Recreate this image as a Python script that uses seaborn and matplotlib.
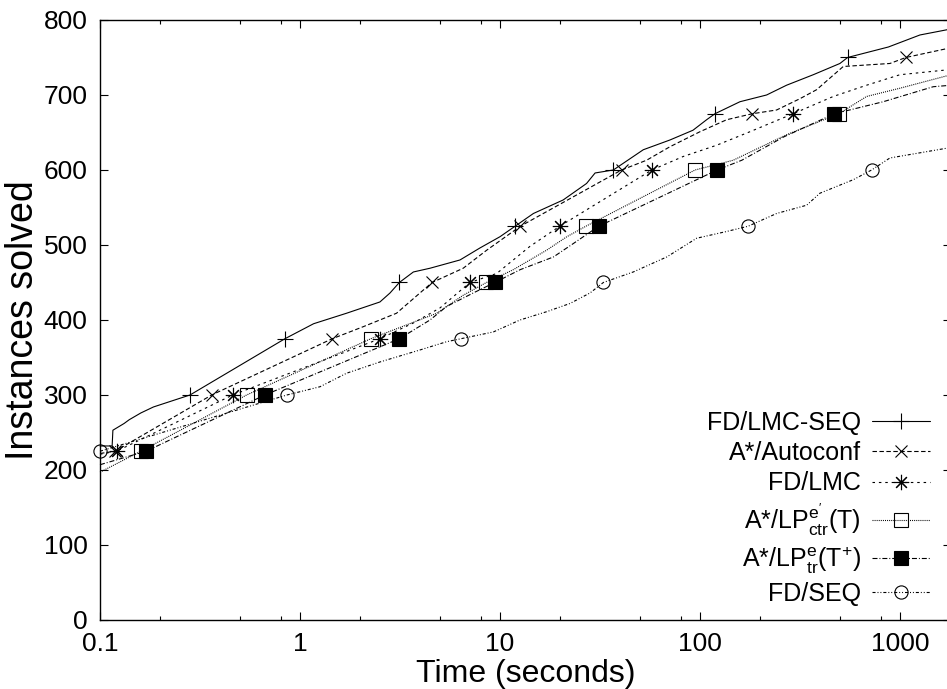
import matplotlib
matplotlib.use("Agg")
import matplotlib.pyplot as plt
from matplotlib.ticker import FixedLocator, FixedFormatter, NullFormatter
import pandas as pd
import seaborn as sns

# instances solved vs. time (markers every 75 instances)
lmcseq_t = [0.1, 0.115, 0.116, 0.132, 0.14, 0.16, 0.185, 0.282, 0.841, 1.17, 1.71, 2.51,
            2.82, 3.14, 3.69, 4.47, 6.31, 7.94, 10, 11.9, 14.7, 20.7, 27.1, 29.9, 36.9,
            52.1, 70.8, 92.3, 108, 118.9, 158.5, 215.5, 271, 368.6, 501, 547.6, 876,
            1259, 1800]
lmcseq_n = [232, 232, 253, 262, 267, 276, 284, 300, 375, 395, 409, 424,
            436, 450, 464, 469, 480, 496, 511, 525, 542, 560, 582, 596, 600,
            627, 640, 653, 667, 675, 691, 700, 713, 727, 742, 750, 764,
            780, 788]

autoconf_t = [0.1, 0.119, 0.362, 1.45, 2.07, 3.04, 3.98, 4.58, 6.55, 8.58, 12.65, 40.55,
              54.1, 70.8, 100, 136, 182.8, 241.8, 316, 383, 520.8, 681, 891, 1071, 1800]
autoconf_n = [222, 225, 300, 375, 391, 409, 436, 450, 469, 493, 525, 600,
              613, 631, 651, 667, 675, 680, 695, 707, 738, 740, 742, 750, 763]

lmc_t = [0.1, 0.121, 0.461, 2.51, 3.69, 5.01, 7.08, 9.63, 14.1, 19.9, 57.5, 82.5,
         121.2, 177.8, 232.6, 292.4, 464, 681, 1000, 1800]
lmc_n = [221, 225, 300, 375, 396, 416, 450, 462, 498, 525, 600, 618,
         633, 651, 664, 675, 698, 713, 727, 734]

lpctr_t = [0.1, 0.16, 0.541, 2.26, 4.83, 6.55, 8.56, 11.65, 17.1, 21.6, 26.9, 94.6,
           146.7, 271, 495.5, 681, 1000, 1800]
lpctr_n = [197, 225, 300, 375, 409, 433, 450, 467, 493, 511, 525, 600,
           613, 647, 675, 698, 709, 727]

lptr_t = [0.1, 0.17, 0.668, 3.14, 4.47, 5.41, 7.35, 9.43, 12.6, 18.5, 23.3, 31.2,
          121.9, 162, 262, 470, 825, 1467, 1800]
lptr_n = [207, 225, 300, 375, 400, 418, 436, 450, 467, 484, 502, 525,
          600, 613, 644, 675, 691, 711, 713]

seq_t = [0.1, 0.861, 1.26, 1.71, 2.51, 3.98, 5.41, 6.38, 9.26, 12.6, 17.1, 22.4, 28.2,
         32.9, 46.4, 68.2, 96.3, 136, 174.2, 241.8, 341.6, 398, 584, 722, 891, 1800]
seq_n = [225, 300, 311, 329, 344, 360, 371, 375, 384, 400, 411, 422, 436,
         450, 464, 484, 509, 518, 525, 542, 553, 569, 587, 600, 616, 630]

labels = ["FD/LMC-SEQ", "A*/Autoconf", "FD/LMC",
          r"A*/LP$^{\mathregular{e'}}_{\mathregular{ctr}}$(T)",
          r"A*/LP$^{\mathregular{e}}_{\mathregular{tr}}$(T$^{\mathregular{+}}$)",
          "FD/SEQ"]

xticks = [0.1, 1, 10, 100, 1000]
xticklabels = ["0.1", "1", "10", "100", "1000"]
yticks = [0, 100, 200, 300, 400, 500, 600, 700, 800]

sns.set_style("ticks")
plt.rcParams["font.family"] = ["Liberation Sans", "DejaVu Sans"]
plt.rcParams["mathtext.fontset"] = "custom"
plt.rcParams["mathtext.rm"] = "Liberation Sans"
plt.rcParams["lines.scale_dashes"] = False
for k in ["text.color", "axes.labelcolor", "xtick.color", "ytick.color", "axes.edgecolor"]:
    plt.rcParams[k] = "black"

fig = plt.figure(figsize=(9.47, 6.89), dpi=100)
ax = fig.add_axes([0.1056, 0.1002, 0.8986, 0.8708])

series = [
    (lmcseq_t, lmcseq_n, "-", "+", "k", 11),
    (autoconf_t, autoconf_n, (0, (3.2, 1.8)), "x", "k", 9),
    (lmc_t, lmc_n, (0, (1.8, 2.8)), (8, 2, 0), "k", 11),
    (lpctr_t, lpctr_n, (0, (0.7, 0.8)), "s", "none", 9.5),
    (lptr_t, lptr_n, (0, (3.6, 1.4, 0.7, 1.4)), "s", "k", 9.5),
    (seq_t, seq_n, (0, (2.2, 1.4, 0.7, 1.4, 0.7, 1.4)), "o", "none", 9.5),
]

for (t, n, ls, mk, mfc, ms), lab in zip(series, labels):
    df = pd.DataFrame({"t": t, "n": n})
    every = [i for i, v in enumerate(n) if v % 75 == 0 and v >= 225]
    sns.lineplot(data=df, x="t", y="n", ax=ax, estimator=None, sort=False,
                 color="black", lw=0.8, linestyle=ls, marker=mk, markersize=ms,
                 markerfacecolor=mfc, markeredgecolor="black", markeredgewidth=0.8,
                 markevery=every, label=lab, clip_on=False)

ax.set_xscale("log")
ax.set_xlim(0.1, 1800)
ax.set_ylim(0, 800)
ax.xaxis.set_major_locator(FixedLocator(xticks))
ax.xaxis.set_major_formatter(FixedFormatter(xticklabels))
minor = [m * 10.0 ** e for e in range(-1, 4) for m in (2, 5, 8)]
ax.xaxis.set_minor_locator(FixedLocator(minor))
ax.xaxis.set_minor_formatter(NullFormatter())
ax.yaxis.set_major_locator(FixedLocator(yticks))

ax.tick_params(axis="both", which="both", direction="in", top=True, right=True,
               labelsize=19, pad=9, width=0.8)
ax.tick_params(axis="both", which="major", length=5.5)
ax.tick_params(axis="x", which="minor", length=2.8)
for s in ax.spines.values():
    s.set_linewidth(1.0)
    s.set_color("black")

ax.set_xlabel("Time (seconds)", fontsize=23, labelpad=2)
ax.set_ylabel("Instances solved", fontsize=27, labelpad=2)

ax.legend(loc="lower right", bbox_to_anchor=(0.975, 0.023), frameon=False,
          markerfirst=False, fontsize=18, handlelength=2.3, handletextpad=0.45,
          labelspacing=0.25, borderpad=0, borderaxespad=0, numpoints=1)

fig.savefig("out.png", dpi=100)
